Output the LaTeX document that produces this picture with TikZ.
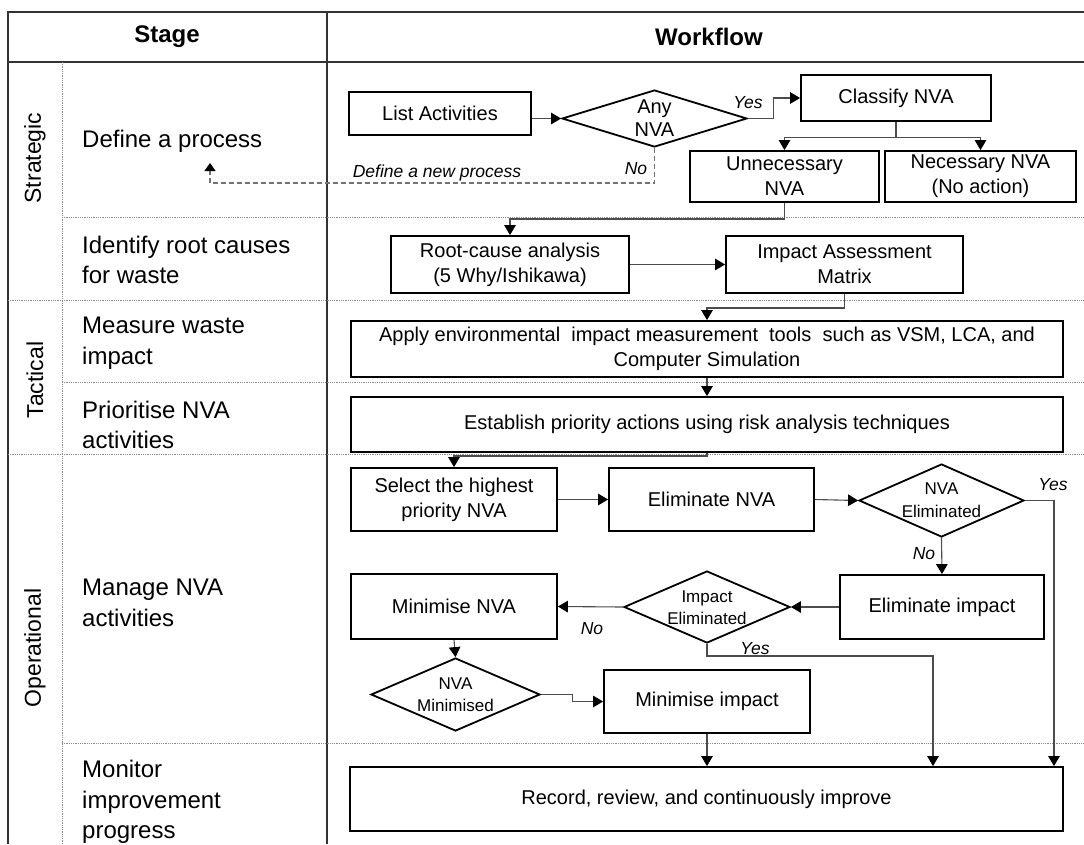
\documentclass[tikz,border=0pt]{standalone}
\usepackage{fontspec}
\setmainfont{Liberation Sans}
\usetikzlibrary{arrows.meta,shapes.geometric,calc}
\begin{document}
\begin{tikzpicture}[x=1pt,y=-1pt,
  box/.style={draw=black, fill=white, line width=1.8pt, inner sep=0pt, align=center, font=\fontsize{20}{25}\selectfont},
  dia/.style={draw=black, fill=white, line width=1.8pt, shape=diamond, inner sep=0pt},
  dtext/.style={align=center, inner sep=0pt, font=\fontsize{17}{23}\selectfont},
  conn/.style={draw=black!70, line width=1.1pt, -{Triangle[length=10pt,width=11.5pt,color=black]}},
  dashconn/.style={draw=black!55, line width=1.1pt, dash pattern=on 5pt off 3pt, -{Triangle[length=8pt,width=11pt,color=black]}},
  lbl/.style={inner sep=0pt, font=\fontsize{17.5}{20}\selectfont\itshape},
  stagetxt/.style={anchor=west, align=left, inner sep=0pt, font=\fontsize{24}{30.5}\selectfont},
  rot/.style={rotate=90, inner sep=0pt, font=\fontsize{23}{26}\selectfont},
  hdr/.style={inner sep=0pt, font=\fontsize{24}{28}\selectfont\bfseries},
  tline/.style={line width=1.8pt, draw=black!80},
  dline/.style={draw=black!45, line width=0.8pt, densely dotted}]
\useasboundingbox (0,0) rectangle (1084,844);
% table
\draw[tline] (8,844) -- (8,12) -- (1084,12);
\draw[tline] (8,62) -- (1084,62);
\draw[tline] (327,12) -- (327,844);
\draw[dline] (62,62) -- (62,844);
\draw[dline] (62,217) -- (1084,217);
\draw[dline] (8,300) -- (1084,300);
\draw[dline] (62,382) -- (1084,382);
\draw[dline] (8,454) -- (1084,454);
\draw[dline] (62,743) -- (1084,743);
% headers
\node[hdr] (hstage) at (167,37) {Stage};
\node[hdr] (hwork) at (709,37) {Workflow};
\node[rot] (rstrat) at (35,158) {Strategic};
\node[rot] (rtact) at (35,380) {Tactical};
\node[rot] (roper) at (35,648) {Operational};
% stages
\node[stagetxt] (s1) at (82,141) {Define a process};
\node[stagetxt] (s2) at (82,260) {Identify root causes\\for waste};
\node[stagetxt] (s3) at (82,343) {Measure waste\\impact};
\node[stagetxt] (s4) at (82,425) {Prioritise NVA\\activities};
\node[stagetxt] (s5) at (82,603) {Manage NVA\\activities};
\node[stagetxt] (s6) at (82,802) {Monitor\\improvement\\progress};
% workflow nodes
\node[box, minimum width=182pt, minimum height=43pt] (list) at (440,113.5) {List Activities};
\node[dia, minimum width=185pt, minimum height=57pt] (any) at (654.5,118.5) {};
\node[dtext, font=\fontsize{20}{23}\selectfont] (anyt) at (654.5,118.5) {Any\\NVA};
\node[box, minimum width=190pt, minimum height=46pt] (classify) at (896,98) {Classify NVA};
\node[box, minimum width=189pt, minimum height=51pt] (unnec) at (784.5,176.5) {Unnecessary\\NVA};
\node[box, minimum width=191pt, minimum height=51pt] (nec) at (980.5,176.5) {Necessary NVA\\(No action)};
\node[box, minimum width=238pt, minimum height=57pt] (root) at (510,264.5) {Root-cause analysis\\(5 Why/Ishikawa)};
\node[box, minimum width=237pt, minimum height=57pt] (imat) at (844.5,264.5) {Impact Assessment\\Matrix};
\node[box, minimum width=712pt, minimum height=56pt] (apply) at (707,349) {Apply environmental\ \ impact measurement\ \ tools\ \ such as VSM, LCA, and\\Computer Simulation};
\node[box, minimum width=712pt, minimum height=55pt] (establish) at (707,424.5) {Establish priority actions using risk analysis techniques};
\node[box, minimum width=206pt, minimum height=63pt] (select) at (454,499.5) {Select the highest\\priority NVA};
\node[box, minimum width=205pt, minimum height=63pt] (elimnva) at (711.5,499.5) {Eliminate NVA};
\node[dia, minimum width=165pt, minimum height=73pt] (nvaelim) at (941.5,500.5) {};
\node[dtext] (nvaelimt) at (941.5,500.5) {NVA\\Eliminated};
\node[box, minimum width=204pt, minimum height=64pt] (elimimp) at (942,607) {Eliminate impact};
\node[dia, minimum width=166pt, minimum height=72pt] (impelim) at (707,607) {};
\node[dtext, font=\fontsize{17}{22}\selectfont] (impelimt) at (707,607.5) {Impact\\Eliminated};
\node[box, minimum width=206pt, minimum height=65pt] (minnva) at (454,606.5) {Minimise NVA};
\node[dia, minimum width=169pt, minimum height=73pt] (nvamin) at (455.5,694.5) {};
\node[dtext, font=\fontsize{17}{22}\selectfont] (nvamint) at (455.5,694.5) {NVA\\Minimised};
\node[box, minimum width=206pt, minimum height=63pt] (minimp) at (707,701.5) {Minimise impact};
\node[box, minimum width=713pt, minimum height=64pt] (record) at (706.5,799) {Record, review, and continuously improve};
\coordinate (defin) at (210,163);
\coordinate (yes1) at (1054,500.5);
% connectors
\draw[conn] (list.east |- any.west) -- (any.west);
\draw[conn] (any.east) -- ++(26,0) |- (classify.west);
\draw[conn] (classify.south) -- ++(0,16) -| (unnec.north);
\draw[conn] (classify.south) -- ++(0,16) -| (nec.north);
\draw[dashconn] (any.south) -- (any.south |- 0,183) -| (defin);
\draw[conn] (unnec.south) -- (unnec.south |- 0,219) -| (root.north);
\draw[conn] (root.east) -- (imat.west);
\draw[conn] (imat.south) -- (imat.south |- 0,308) -| (apply.north);
\draw[conn] (apply.south) -- (establish.north);
\draw[conn] (establish.south) -- (establish.south |- 0,456) -| (select.north);
\draw[conn] (select.east) -- (elimnva.west);
\draw[conn] (elimnva.east) -- (nvaelim.west);
\draw[conn] (nvaelim.east) -- (yes1) -- (yes1 |- record.north);
\draw[conn] (nvaelim.south) -- (elimimp.north);
\draw[conn] (elimimp.west) -- (impelim.east);
\draw[conn] (impelim.west) -- (minnva.east);
\draw[conn] (impelim.south) -- (impelim.south |- 0,656) -| (record.north -| 933,0);
\draw[conn] (minnva.south) -- (nvamin.north);
\draw[conn] (nvamin.east) -- ++(32,0) |- (minimp.west);
\draw[conn] (minimp.south) -- (minimp.south |- record.north);
% labels
\node[lbl] (lyes1) at (748,103) {Yes};
\node[lbl] (lno1) at (636,169) {No};
\node[lbl] (lnewp) at (437,173) {Define a new process};
\node[lbl] (lyes2) at (1053,485) {Yes};
\node[lbl] (lno2) at (924,554) {No};
\node[lbl] (lno3) at (592,629) {No};
\node[lbl] (lyes3) at (755,649) {Yes};
\end{tikzpicture}
\end{document}
